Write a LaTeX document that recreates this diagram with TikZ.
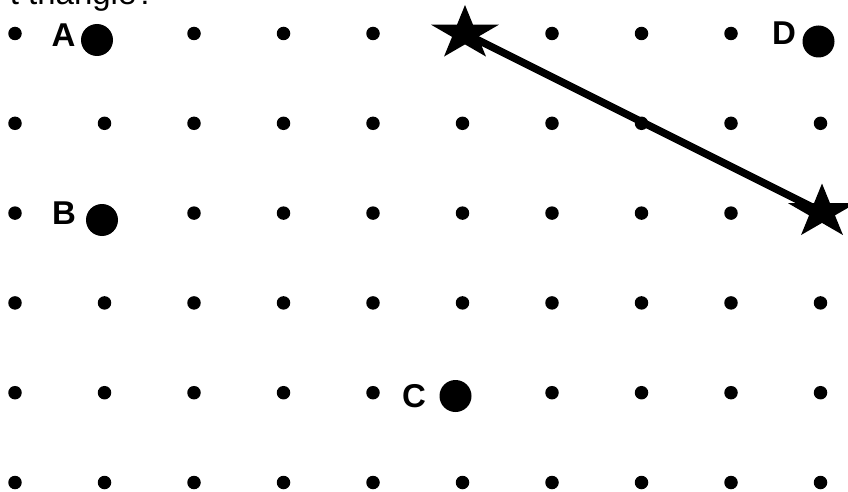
\documentclass[tikz,border=0pt]{standalone}
\usepackage{fontspec}
\setmainfont{Liberation Sans}
\begin{document}
\begin{tikzpicture}[x=1pt,y=-1pt,
  griddot/.style={circle,fill=black,inner sep=0pt,minimum size=13.5pt},
  bigdot/.style={circle,fill=black,inner sep=0pt,minimum size=32pt},
  letter/.style={inner sep=0pt,font=\fontsize{33}{40}\selectfont\bfseries},
  segment/.style={line width=7.5pt}]
\useasboundingbox (0,0) rectangle (848,492);
\clip (0,0) rectangle (848,492);
\fill[white] (0,0) rectangle (848,492);
% top text (cut off)
\node[anchor=base east,inner sep=0pt,font=\fontsize{33}{40}\selectfont] (title) at (155,5) {t triangle?};
% grid dots
\foreach \i in {0,...,9}{
  \foreach \j in {0,...,5}{
    \pgfmathtruncatemacro\skip{
      (\i==1 && \j==0) || (\i==5 && \j==0) || (\i==9 && \j==0) ||
      (\i==1 && \j==2) || (\i==9 && \j==2) || (\i==5 && \j==4) ? 1 : 0}
    \ifnum\skip=0
      \node[griddot] (g\i\j) at ({15+89.5*\i},{33.5+89.8*\j}) {};
    \fi
  }
}
% labelled points
\node[bigdot] (A) at (97,40) {};
\node[bigdot] (B) at (102,220) {};
\node[bigdot] (C) at (455.5,396) {};
\node[bigdot] (D) at (818.5,41.5) {};
\node[letter] (lA) at (63.5,35) {A};
\node[letter] (lB) at (64,213.5) {B};
\node[letter] (lC) at (414,396.5) {C};
\node[letter] (lD) at (784,33) {D};
% stars and segment
\coordinate (s1) at (465,33.5);
\coordinate (s2) at (822,212);
\draw[segment] (s1) -- (s2);
\foreach \s in {s1,s2}{
  \fill[shift={(\s)}] (-90:35.7 and 28.5)
    \foreach \k in {0,...,4}{ -- ({-54+72*\k}:13.6 and 10.9) -- ({-18+72*\k}:35.7 and 28.5)} -- cycle;
}
\end{tikzpicture}
\end{document}
